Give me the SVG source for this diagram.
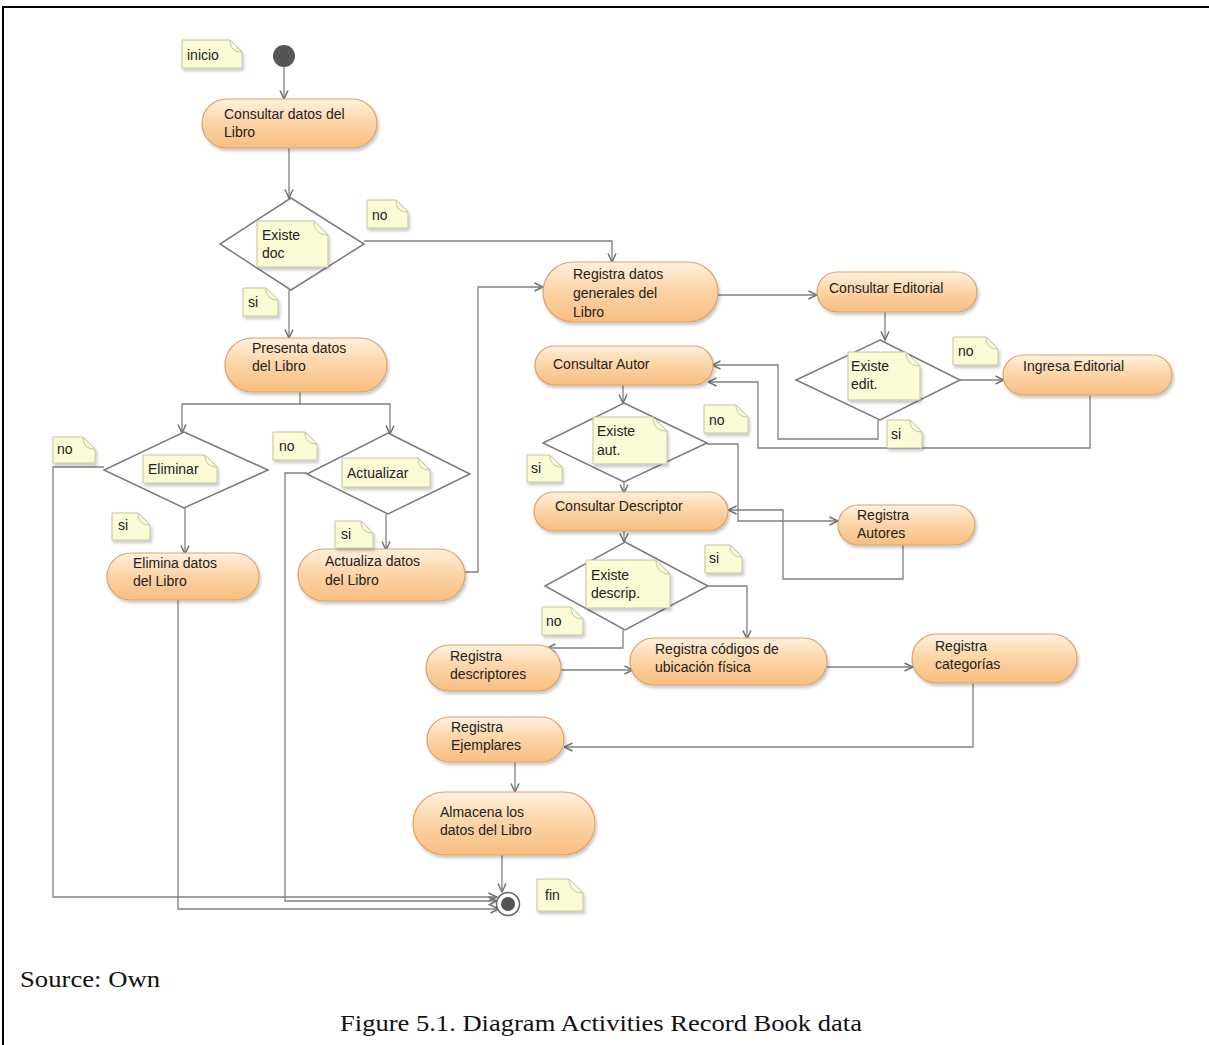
<svg xmlns="http://www.w3.org/2000/svg" width="1209" height="1045" viewBox="0 0 1209 1045">
<style>
.act{fill:url(#actg);stroke:#d9a36c;stroke-width:1.2;filter:url(#sh)}
.note{fill:#fbfbd6;stroke:#c4c4a0;stroke-width:1;filter:url(#sh)}
.fold{fill:none;stroke:#c4c4a0;stroke-width:1}
.dec{fill:#fff;stroke:#7a7a7a;stroke-width:1.5}
.t{font-family:"Liberation Sans",Arial,sans-serif;font-size:14px;fill:#222}
.cap{font-family:"Liberation Serif","Times New Roman",serif;font-size:23px;fill:#111}
.c{fill:none;stroke:#808080;stroke-width:1.3}
.ca{fill:none;stroke:#808080;stroke-width:1.3;marker-end:url(#arr)}
</style>
<defs>
<linearGradient id="actg" x1="0" y1="0" x2="0" y2="1">
<stop offset="0" stop-color="#fff1de"/>
<stop offset="0.45" stop-color="#fcd6a9"/>
<stop offset="1" stop-color="#f8bd80"/>
</linearGradient>
<filter id="sh" x="-10%" y="-10%" width="125%" height="140%">
<feDropShadow dx="1.5" dy="2.5" stdDeviation="1.5" flood-color="#000" flood-opacity="0.22"/>
</filter>
<marker id="arr" viewBox="0 0 10 10" refX="9.5" refY="5" markerWidth="10" markerHeight="10" orient="auto" markerUnits="userSpaceOnUse">
<path d="M1,1 L9.5,5 L1,9" fill="none" stroke="#707070" stroke-width="1.5"/>
</marker>
</defs>
<rect width="1209" height="1045" fill="#fff"/>
<path d="M3,1045 V7 H1209" fill="none" stroke="#000" stroke-width="2"/>

<g id="connectors">
<path class="ca" d="M284,67 V99"/>
<path class="ca" d="M289,148 V198"/>
<path class="ca" d="M364,241 H612 V262"/>
<path class="ca" d="M289,290 V338"/>
<path class="ca" d="M300,392 V404 H182 V433"/>
<path class="ca" d="M300,404 H390 V434"/>
<path class="ca" d="M104,467 H53 V897 H497"/>
<path class="ca" d="M185,508 V554"/>
<path class="ca" d="M178,600 V909 H499"/>
<path class="ca" d="M307,473 H285 V901 H497"/>
<path class="ca" d="M386,514 V550"/>
<path class="ca" d="M465,572 H478 V287 H543"/>
<path class="ca" d="M718,295 H817"/>
<path class="ca" d="M885,312 V340"/>
<path class="ca" d="M960,380 H1004"/>
<path class="ca" d="M878,420 V439 H778 V365 H712"/>
<path class="ca" d="M1090,395 V448 H758 V382 H708"/>
<path class="ca" d="M623,385 V403"/>
<path class="ca" d="M707,444 H738 V521 H838"/>
<path class="ca" d="M903,545 V579 H783 V510 H728"/>
<path class="ca" d="M624,482 V493"/>
<path class="ca" d="M624,531 V542"/>
<path class="ca" d="M708,586 H747 V639"/>
<path class="ca" d="M623,630 V648 H547"/>
<path class="ca" d="M561,670 H633"/>
<path class="ca" d="M827,667 H913"/>
<path class="ca" d="M973,683 V747 H564"/>
<path class="ca" d="M515,762 V792"/>
<path class="ca" d="M502,855 V892"/>
</g>

<g id="start"><circle cx="284" cy="56" r="11" fill="#555"/></g>
<g id="end"><circle cx="508" cy="904" r="11.5" fill="#fff" stroke="#666" stroke-width="1.5"/><circle cx="508" cy="904" r="7" fill="#555"/></g>

<g id="n_consultar_libro"><rect class="act" x="202" y="99" width="175" height="49" rx="24.5"/><text class="t" x="224" y="119">Consultar datos del</text><text class="t" x="224" y="137">Libro</text></g>
<g id="n_presenta"><rect class="act" x="225" y="338" width="162" height="54" rx="27"/><text class="t" x="252" y="353">Presenta datos</text><text class="t" x="252" y="371">del Libro</text></g>
<g id="n_elimina"><rect class="act" x="107" y="553" width="152" height="47" rx="23.5"/><text class="t" x="133" y="568">Elimina datos</text><text class="t" x="133" y="586">del Libro</text></g>
<g id="n_actualiza"><rect class="act" x="298" y="549" width="167" height="52" rx="26"/><text class="t" x="325" y="566">Actualiza datos</text><text class="t" x="325" y="585">del Libro</text></g>
<g id="n_registra_generales"><rect class="act" x="543" y="262" width="175" height="60" rx="30"/><text class="t" x="573" y="279">Registra datos</text><text class="t" x="573" y="298">generales del</text><text class="t" x="573" y="317">Libro</text></g>
<g id="n_consultar_editorial"><rect class="act" x="817" y="272" width="160" height="40" rx="20"/><text class="t" x="829" y="293">Consultar Editorial</text></g>
<g id="n_ingresa_editorial"><rect class="act" x="1003" y="355" width="169" height="40" rx="20"/><text class="t" x="1023" y="371">Ingresa Editorial</text></g>
<g id="n_consultar_autor"><rect class="act" x="535" y="346" width="178" height="39" rx="19.5"/><text class="t" x="553" y="369">Consultar Autor</text></g>
<g id="n_registra_autores"><rect class="act" x="838" y="505" width="137" height="40" rx="20"/><text class="t" x="857" y="520">Registra</text><text class="t" x="857" y="538">Autores</text></g>
<g id="n_consultar_descriptor"><rect class="act" x="534" y="492" width="194" height="39" rx="19.5"/><text class="t" x="555" y="511">Consultar Descriptor</text></g>
<g id="n_registra_descriptores"><rect class="act" x="426" y="645" width="135" height="46" rx="23"/><text class="t" x="450" y="661">Registra</text><text class="t" x="450" y="679">descriptores</text></g>
<g id="n_registra_codigos"><rect class="act" x="630" y="638" width="197" height="47" rx="23.5"/><text class="t" x="655" y="654">Registra códigos de</text><text class="t" x="655" y="672">ubicación física</text></g>
<g id="n_registra_categorias"><rect class="act" x="912" y="634" width="165" height="49" rx="24.5"/><text class="t" x="935" y="651">Registra</text><text class="t" x="935" y="669">categorías</text></g>
<g id="n_registra_ejemplares"><rect class="act" x="427" y="717" width="137" height="45" rx="22.5"/><text class="t" x="451" y="732">Registra</text><text class="t" x="451" y="750">Ejemplares</text></g>
<g id="n_almacena"><rect class="act" x="413" y="792" width="182" height="63" rx="31.5"/><text class="t" x="440" y="817">Almacena los</text><text class="t" x="440" y="835">datos del Libro</text></g>

<g id="d_doc"><polygon class="dec" points="291,198 364,244 291,290 220,244"/></g>
<g id="d_eliminar"><polygon class="dec" points="184,432 268,470 184,508 104,470"/></g>
<g id="d_actualizar"><polygon class="dec" points="388,433 470,474 388,514 307,474"/></g>
<g id="d_edit"><polygon class="dec" points="880,340 960,380 880,420 796,380"/></g>
<g id="d_aut"><polygon class="dec" points="624,403 707,443 624,482 543,443"/></g>
<g id="d_descrip"><polygon class="dec" points="625,542 708,586 625,630 545,586"/></g>

<g id="note_inicio"><path class="note" d="M182,40 H230 L242,52 V68 H182 Z"/><path class="fold" d="M230,40 C230,48 234,52 242,52"/><text class="t" x="187" y="60">inicio</text></g>
<g id="note_no_doc"><path class="note" d="M367,200 H396 L408,212 V228 H367 Z"/><path class="fold" d="M396,200 C396,208 400,212 408,212"/><text class="t" x="372" y="220">no</text></g>
<g id="note_si_doc"><path class="note" d="M243,288 H266 L278,300 V316 H243 Z"/><path class="fold" d="M266,288 C266,296 270,300 278,300"/><text class="t" x="248" y="307">si</text></g>
<g id="note_existe_doc"><path class="note" d="M257,221 H314 L328,235 V267 H257 Z"/><path class="fold" d="M314,221 C314,230 319,235 328,235"/><text class="t" x="262" y="240">Existe</text><text class="t" x="262" y="258">doc</text></g>
<g id="note_no_elim"><path class="note" d="M53,437 H83 L95,449 V463 H53 Z"/><path class="fold" d="M83,437 C83,445 87,449 95,449"/><text class="t" x="57" y="454">no</text></g>
<g id="note_no_act"><path class="note" d="M273,432 H305 L317,444 V460 H273 Z"/><path class="fold" d="M305,432 C305,440 309,444 317,444"/><text class="t" x="279" y="451">no</text></g>
<g id="note_eliminar"><path class="note" d="M143,455 H205 L217,467 V483 H143 Z"/><path class="fold" d="M205,455 C205,463 209,467 217,467"/><text class="t" x="148" y="474">Eliminar</text></g>
<g id="note_actualizar"><path class="note" d="M342,458 H418 L430,470 V487 H342 Z"/><path class="fold" d="M418,458 C418,466 422,470 430,470"/><text class="t" x="347" y="478">Actualizar</text></g>
<g id="note_si_elim"><path class="note" d="M112,513 H138 L150,525 V540 H112 Z"/><path class="fold" d="M138,513 C138,521 142,525 150,525"/><text class="t" x="118" y="530">si</text></g>
<g id="note_si_act"><path class="note" d="M335,521 H361 L373,533 V548 H335 Z"/><path class="fold" d="M361,521 C361,529 365,533 373,533"/><text class="t" x="341" y="539">si</text></g>
<g id="note_existe_edit"><path class="note" d="M848,352 H906 L920,366 V400 H848 Z"/><path class="fold" d="M906,352 C906,361 911,366 920,366"/><text class="t" x="851" y="371">Existe</text><text class="t" x="851" y="389">edit.</text></g>
<g id="note_no_edit"><path class="note" d="M953,337 H986 L998,349 V365 H953 Z"/><path class="fold" d="M986,337 C986,345 990,349 998,349"/><text class="t" x="958" y="356">no</text></g>
<g id="note_si_edit"><path class="note" d="M887,420 H910 L922,432 V448 H887 Z"/><path class="fold" d="M910,420 C910,428 914,432 922,432"/><text class="t" x="891" y="439">si</text></g>
<g id="note_existe_aut"><path class="note" d="M593,417 H653 L667,431 V464 H593 Z"/><path class="fold" d="M653,417 C653,426 658,431 667,431"/><text class="t" x="597" y="436">Existe</text><text class="t" x="597" y="455">aut.</text></g>
<g id="note_no_aut"><path class="note" d="M704,405 H736 L748,417 V433 H704 Z"/><path class="fold" d="M736,405 C736,413 740,417 748,417"/><text class="t" x="709" y="425">no</text></g>
<g id="note_si_aut"><path class="note" d="M527,455 H550 L562,467 V482 H527 Z"/><path class="fold" d="M550,455 C550,463 554,467 562,467"/><text class="t" x="531" y="473">si</text></g>
<g id="note_existe_descrip"><path class="note" d="M586,560 H656 L670,574 V608 H586 Z"/><path class="fold" d="M656,560 C656,569 661,574 670,574"/><text class="t" x="591" y="580">Existe</text><text class="t" x="591" y="598">descrip.</text></g>
<g id="note_si_descrip"><path class="note" d="M705,545 H730 L742,557 V573 H705 Z"/><path class="fold" d="M730,545 C730,553 734,557 742,557"/><text class="t" x="709" y="563">si</text></g>
<g id="note_no_descrip"><path class="note" d="M542,607 H571 L583,619 V635 H542 Z"/><path class="fold" d="M571,607 C571,615 575,619 583,619"/><text class="t" x="546" y="626">no</text></g>
<g id="note_fin"><path class="note" d="M537,879 H569 L583,893 V911 H537 Z"/><path class="fold" d="M569,879 C569,888 574,893 583,893"/><text class="t" x="545" y="900">fin</text></g>

<text class="cap" x="20" y="987" textLength="140" lengthAdjust="spacingAndGlyphs">Source: Own</text>
<text class="cap" x="340" y="1031" textLength="522" lengthAdjust="spacingAndGlyphs">Figure 5.1. Diagram Activities Record Book data</text>
</svg>
